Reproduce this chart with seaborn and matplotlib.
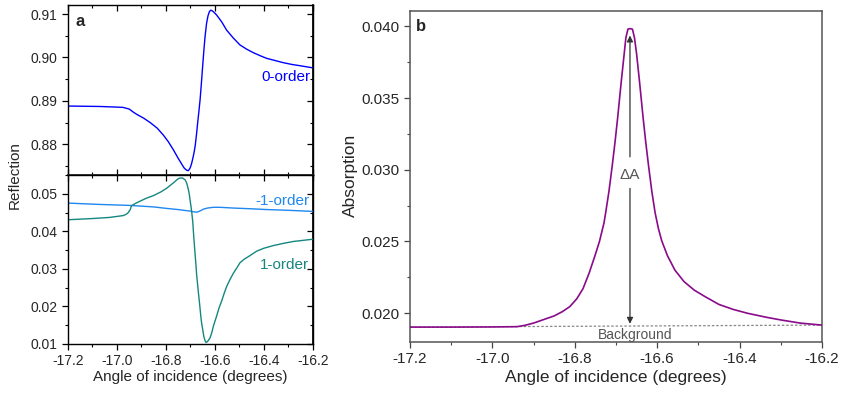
import numpy as np
import pandas as pd
import matplotlib
matplotlib.use("Agg")
import matplotlib.pyplot as plt
from matplotlib.ticker import MultipleLocator, FormatStrFormatter, NullFormatter
import seaborn as sns

sns.set_theme(style="ticks")
plt.rcParams['font.family'] = ['Liberation Sans', 'DejaVu Sans']

# ---------------- data ----------------
angle_r0 = [-17.2, -17.068, -16.975, -16.949, -16.935, -16.919, -16.89, -16.864, -16.835, -16.81,
            -16.79, -16.769, -16.75, -16.735, -16.725, -16.715, -16.708, -16.701, -16.695,
            -16.69, -16.685, -16.68, -16.675, -16.67, -16.665, -16.66, -16.655, -16.65,
            -16.645, -16.64, -16.634, -16.628, -16.622, -16.617, -16.612, -16.605, -16.593,
            -16.572, -16.552, -16.525, -16.498, -16.47, -16.443, -16.415, -16.389, -16.355,
            -16.321, -16.287, -16.253, -16.2]
refl_r0 = [0.8888, 0.8887, 0.8885, 0.8881, 0.8875, 0.8869, 0.8860, 0.8850, 0.8837, 0.8821,
           0.8806, 0.8787, 0.8768, 0.8754, 0.8745, 0.8740, 0.8739, 0.8745, 0.8755,
           0.8767, 0.8780, 0.8797, 0.8822, 0.8850, 0.8876, 0.8904, 0.8940, 0.8978,
           0.9015, 0.9048, 0.9078, 0.9096, 0.9106, 0.9109, 0.9108, 0.9105, 0.9098,
           0.9082, 0.9063, 0.9045, 0.9029, 0.9019, 0.9011, 0.9004, 0.8998, 0.8993,
           0.8988, 0.8984, 0.8981, 0.8976]

angle_rm1 = [-17.2, -17.068, -16.946, -16.85, -16.796, -16.75, -16.715, -16.701, -16.688,
             -16.674, -16.665, -16.655, -16.647, -16.63, -16.606, -16.58, -16.525, -16.45,
             -16.389, -16.3, -16.2]
refl_rm1 = [0.04752, 0.04716, 0.0469, 0.0465, 0.0461, 0.0458, 0.0455, 0.0454, 0.0452,
            0.0451, 0.0453, 0.0456, 0.0459, 0.0462, 0.0464, 0.0464, 0.0462, 0.0460,
            0.0458, 0.0456, 0.0453]

angle_rp1 = [-17.2, -17.1, -17.03, -16.973, -16.96, -16.953, -16.945, -16.94, -16.925,
             -16.906, -16.88, -16.851, -16.82, -16.796, -16.775, -16.762, -16.752, -16.742,
             -16.732, -16.721, -16.714, -16.708, -16.704, -16.701, -16.697, -16.694, -16.69,
             -16.687, -16.684, -16.681, -16.677, -16.674, -16.67, -16.667, -16.663, -16.660,
             -16.657, -16.654, -16.649, -16.645, -16.64, -16.636, -16.631, -16.626, -16.62,
             -16.613, -16.607, -16.6, -16.593, -16.583, -16.572, -16.562, -16.552, -16.538,
             -16.525, -16.51, -16.498, -16.48, -16.46, -16.43, -16.4, -16.362, -16.32,
             -16.28, -16.24, -16.2]
refl_rp1 = [0.04308, 0.0434, 0.0437, 0.0442, 0.0446, 0.0450, 0.0458, 0.0468, 0.0474,
            0.0480, 0.0488, 0.0495, 0.0505, 0.0515, 0.0526, 0.0533, 0.0539, 0.0542,
            0.0542, 0.0537, 0.0527, 0.0511, 0.0498, 0.0483, 0.0465, 0.0449, 0.0425,
            0.0395, 0.0368, 0.0342, 0.0310, 0.0282, 0.0256, 0.0236, 0.0212, 0.0192,
            0.0172, 0.0156, 0.0136, 0.0120, 0.0109, 0.0104, 0.0106, 0.0110, 0.0116,
            0.0129, 0.0145, 0.0160, 0.0174, 0.0196, 0.0215, 0.0235, 0.0253, 0.0272,
            0.0288, 0.0303, 0.0316, 0.0326, 0.0334, 0.0347, 0.0355, 0.0362, 0.0368,
            0.0373, 0.0376, 0.0379]

angle_abs = [-17.2, -17.1, -17.0, -16.94, -16.92, -16.9, -16.875, -16.85, -16.83, -16.812,
             -16.795, -16.78, -16.765, -16.751, -16.74, -16.729, -16.725, -16.717, -16.709,
             -16.702, -16.696, -16.687, -16.680, -16.676, -16.671, -16.6655, -16.660,
             -16.655, -16.650, -16.643, -16.634, -16.628, -16.621, -16.613, -16.605,
             -16.597, -16.589, -16.575, -16.557, -16.535, -16.51, -16.484, -16.45, -16.415,
             -16.38, -16.334, -16.30, -16.253, -16.2]
absorption = [0.01902, 0.01902, 0.01903, 0.01905, 0.01915, 0.01930, 0.01955, 0.01980, 0.02010,
              0.02045, 0.02100, 0.02170, 0.02280, 0.02400, 0.02500, 0.02630, 0.02700, 0.02850,
              0.03030, 0.03200, 0.03360, 0.03620, 0.03810, 0.03920, 0.03981, 0.03985, 0.03981,
              0.03920, 0.03810, 0.03620, 0.03360, 0.03200, 0.03030, 0.02850, 0.02700,
              0.02590, 0.02505, 0.02400, 0.02300, 0.02220, 0.02160, 0.02115, 0.02060, 0.02025,
              0.01998, 0.01970, 0.01952, 0.01930, 0.01916]

background_x = [-17.2, -16.2]
background_y = [0.01902, 0.01916]

delta_x = -16.666

# ---------------- figure ----------------
fig = plt.figure(figsize=(8.42, 3.93), dpi=100)
ax_top = fig.add_axes([0.0804, 0.5547, 0.2913, 0.4326])
ax_bot = fig.add_axes([0.0804, 0.1247, 0.2913, 0.4300])
ax_b = fig.add_axes([0.4869, 0.1305, 0.4893, 0.8423])

blue = "#0000FF"
lblue = "#1E88F0"
teal = "#14877F"
purple = "#8A0A8A"

sns.lineplot(x=angle_r0, y=refl_r0, ax=ax_top, color=blue, lw=1.0)
sns.lineplot(x=angle_rm1, y=refl_rm1, ax=ax_bot, color=lblue, lw=1.0)
sns.lineplot(x=angle_rp1, y=refl_rp1, ax=ax_bot, color=teal, lw=1.0)
sns.lineplot(x=angle_abs, y=absorption, ax=ax_b, color=purple, lw=1.2, zorder=3)
ax_b.plot(background_x, background_y, ls=(0, (2, 1.5)), color="#888888", lw=0.9, zorder=2)

# --- panel a common
for ax, ylim in ((ax_top, (0.8729, 0.9121)), (ax_bot, (0.01, 0.055))):
    ax.set_xlim(-17.2, -16.2)
    ax.set_ylim(*ylim)
    ax.yaxis.set_major_locator(MultipleLocator(0.01))
    ax.yaxis.set_minor_locator(MultipleLocator(0.005))
    ax.yaxis.set_major_formatter(FormatStrFormatter('%.2f'))
    ax.xaxis.set_major_locator(MultipleLocator(0.2))
    ax.xaxis.set_minor_locator(MultipleLocator(0.1))
    ax.xaxis.set_major_formatter(FormatStrFormatter('%.1f'))
    for s in ax.spines.values():
        s.set_visible(True)
        s.set_color("black")
        s.set_linewidth(1.0)
    ax.set_xlabel("")
    ax.set_ylabel("")
    ax.tick_params(which='major', length=4, width=0.9, color='black', labelsize=10)
    ax.tick_params(which='minor', length=2.5, width=0.8, color='black')
    ax.tick_params(axis='y', which='both', direction='out', left=True, right=False)
    # right-side inward ticks
    sec = ax.secondary_yaxis('right')
    sec.yaxis.set_major_locator(MultipleLocator(0.01))
    sec.yaxis.set_minor_locator(MultipleLocator(0.005))
    sec.yaxis.set_major_formatter(NullFormatter())
    sec.tick_params(which='major', direction='in', length=4, width=0.9, color='black')
    sec.tick_params(which='minor', direction='in', length=2.5, width=0.8, color='black')
    sec.spines['right'].set_color('black')

ax_top.tick_params(axis='x', which='both', direction='in', bottom=True, top=True,
                   labelbottom=False)
ax_bot.tick_params(axis='x', which='both', direction='out', bottom=True, top=False)
sec_x = ax_bot.secondary_xaxis('top')
sec_x.xaxis.set_major_locator(MultipleLocator(0.2))
sec_x.xaxis.set_minor_locator(MultipleLocator(0.1))
sec_x.xaxis.set_major_formatter(NullFormatter())
sec_x.tick_params(which='major', direction='in', length=4, width=0.9, color='black')
sec_x.tick_params(which='minor', direction='in', length=2.5, width=0.8, color='black')

ax_top.text(-17.17, 0.9084, "a", fontsize=12, fontweight='bold', ha='left', va='center')
ax_top.text(-16.21, 0.8954, "0-order", color=blue, fontsize=11, ha='right', va='center')
ax_bot.text(-16.215, 0.0480, "-1-order", color=lblue, fontsize=11, ha='right', va='center')
ax_bot.text(-16.215, 0.0310, "1-order", color=teal, fontsize=11, ha='right', va='center')

ax_bot.set_xlabel("Angle of incidence (degrees)", fontsize=11, labelpad=1)
fig.text(15 / 842, 1 - 175 / 393, "Reflection", rotation=90, ha='center', va='center', fontsize=11)

# --- panel b
ax_b.set_xlim(-17.2, -16.2)
ax_b.set_ylim(0.0180, 0.0411)
ax_b.yaxis.set_major_locator(MultipleLocator(0.005))
ax_b.yaxis.set_minor_locator(MultipleLocator(0.0025))
ax_b.yaxis.set_major_formatter(FormatStrFormatter('%.3f'))
ax_b.xaxis.set_major_locator(MultipleLocator(0.2))
ax_b.xaxis.set_minor_locator(MultipleLocator(0.1))
ax_b.xaxis.set_major_formatter(FormatStrFormatter('%.1f'))
ax_b.tick_params(which='major', direction='out', length=4, width=0.9, labelsize=11,
                 color='#444444')
ax_b.tick_params(which='minor', direction='out', length=2.5, width=0.8, color='#444444')
for s in ax_b.spines.values():
    s.set_visible(True)
    s.set_color("#555555")
    s.set_linewidth(1.1)
ax_b.set_xlabel("Angle of incidence (degrees)", fontsize=12.5, labelpad=3)
ax_b.set_ylabel("")
fig.text(350 / 842, 1 - 175 / 393, "Absorption", rotation=90, ha='center', va='center',
         fontsize=12.5)
ax_b.text(-17.185, 0.0400, "b", fontsize=12, fontweight='bold', ha='left', va='center')

ax_b.text(delta_x, 0.02962, "ΔA", fontsize=11, color='#555555', ha='center', va='center')
ax_b.annotate("", xy=(delta_x, 0.03937), xytext=(delta_x, 0.0309),
              arrowprops=dict(arrowstyle='-|>', color='#333333', lw=0.9,
                              mutation_scale=9, shrinkA=0, shrinkB=0))
ax_b.annotate("", xy=(delta_x, 0.01925), xytext=(delta_x, 0.0287),
              arrowprops=dict(arrowstyle='-|>', color='#333333', lw=0.9,
                              mutation_scale=9, shrinkA=0, shrinkB=0))
ax_b.text(-16.654, 0.01847, "Background", fontsize=10, color='#555555', ha='center',
          va='center')

fig.savefig("out.png", dpi=100)
